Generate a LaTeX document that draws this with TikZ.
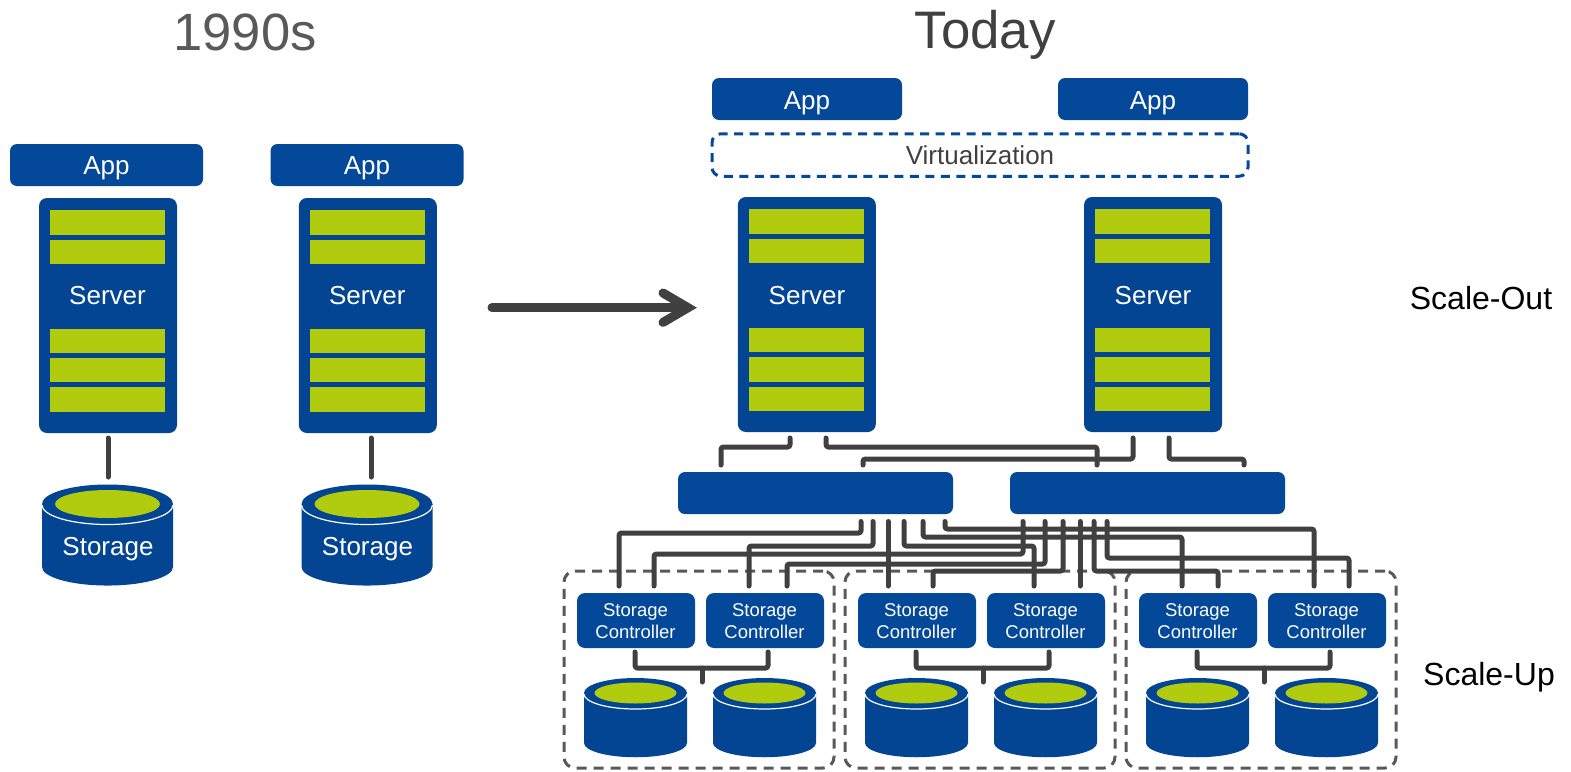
\documentclass[tikz,border=0pt]{standalone}
\usepackage{fontspec}
\setmainfont{Liberation Sans}
\usetikzlibrary{shapes.geometric}
\definecolor{hpblue}{HTML}{04489A}
\definecolor{hpdeep}{HTML}{034593}
\definecolor{hpgreen}{HTML}{B1CC0E}
\definecolor{wirec}{HTML}{404040}
\definecolor{dashc}{HTML}{595959}
\newcommand{\fsz}[1]{\fontsize{#1}{#1}\selectfont}
\tikzset{
  appbox/.style={fill=hpblue,rounded corners=7pt,minimum width=193pt,minimum height=42pt,inner sep=0pt},
  srvbox/.style={fill=hpdeep,rounded corners=8pt,minimum width=138pt,minimum height=235pt,inner sep=0pt},
  barbox/.style={fill=hpgreen,minimum width=115pt,minimum height=24.5pt,inner sep=0pt},
  swbox/.style={fill=hpblue,rounded corners=7pt,minimum width=275pt,minimum height=42pt,inner sep=0pt},
  ctlbox/.style={fill=hpblue,rounded corners=8pt,minimum width=118pt,minimum height=55pt,inner sep=0pt},
  ctltxt/.style={inner sep=0pt,text=white,font=\fsz{18.5},align=center},
  wire/.style={draw=wirec,line width=5pt,line cap=round,rounded corners=2.5pt},
  groupbox/.style={draw=dashc,line width=3pt,dash pattern=on 10pt off 7pt,rounded corners=11pt,minimum width=270pt,minimum height=197pt,inner sep=0pt},
  virtbox/.style={draw=hpblue,line width=3pt,dash pattern=on 9pt off 6.5pt,rounded corners=9pt,minimum width=536pt,minimum height=42.5pt,inner sep=0pt},
  ttl/.style={inner sep=0pt,text=#1},
  boxtxt/.style={inner sep=0pt,text=#1,font=\fsz{26}},
}
% \cyl{name}{cx}{cy}{rx}{ry}{h}{green rx}{green ry}
\newcommand{\cyl}[8]{%
  \fill[hpdeep] (#2-#4,#3) -- (#2-#4,#3+#6) arc[start angle=180,end angle=360,x radius=#4pt,y radius=#5pt*0.95] -- (#2+#4,#3) -- cycle;
  \fill[hpdeep] (#2,#3) ellipse[x radius=#4pt,y radius=#5pt];
  \draw[white,line width=1.2pt] (#2-#4,#3+1) arc[start angle=180,end angle=360,x radius=#4pt,y radius=#5pt];
  \node[fill=hpgreen,draw=none,shape=ellipse,minimum width=2*#7pt,minimum height=2*#8pt,inner sep=0pt] (#1) at (#2,#3) {};
}
% \vwire{from}{y}{to}
\newcommand{\vwire}[3]{\draw[wire] (#1) -- (#1 |- 0,#2) -- (#3 |- 0,#2) -- (#3);}
% \srvbars{prefix}{x}{y1}{y2}{y3}{y4}{y5}
\newcommand{\srvbars}[7]{%
  \node[barbox] (#1a) at (#2,#3) {};
  \node[barbox] (#1b) at (#2,#4) {};
  \node[barbox] (#1c) at (#2,#5) {};
  \node[barbox] (#1d) at (#2,#6) {};
  \node[barbox] (#1e) at (#2,#7) {};
}
% \ctlgroup{n}{dx}
\newcommand{\ctlgroup}[2]{%
  \node[groupbox] (grp#1) at (699+#2,669.5) {};
  \node[ctlbox] (ctl#1a) at (636+#2,620.5) {};
  \node[ctlbox] (ctl#1b) at (765+#2,620.5) {};
  \node[ctltxt] (ctl#1at) at (635.5+#2,621.5) {Storage\\[3.5pt]Controller};
  \node[ctltxt] (ctl#1bt) at (764.5+#2,621.5) {Storage\\[3.5pt]Controller};
  \cyl{dsk#1a}{635.5+#2}{693}{51.5}{15}{50}{41}{10.5}
  \cyl{dsk#1b}{764.5+#2}{693}{51.5}{15}{50}{41}{10.5}
  \coordinate (j#1a) at (635+#2,652);
  \coordinate (j#1b) at (768+#2,652);
  \coordinate (j#1m) at (702+#2,668);
  \coordinate (j#1d) at (702+#2,682);
  \vwire{j#1a}{668}{j#1b}
  \draw[wire] (j#1m) -- (j#1d);
}
\begin{document}
\begin{tikzpicture}[x=1pt,y=-1pt]
\useasboundingbox (0,0) rectangle (1571,771);
% titles
\node[ttl=dashc,font=\fsz{52.5}] (t1) at (245,32) {1990s};
\node[ttl=wirec,font=\fsz{52.8}] (t2) at (985,35) {Today};
\node[ttl=black,font=\fsz{32}] (so) at (1481,298) {Scale-Out};
\node[ttl=black,font=\fsz{32}] (su) at (1489,677) {Scale-Up};
% left apps and servers
\node[appbox] (appL1) at (106.5,165) {};
\node[appbox] (appL2) at (367,165) {};
\node[boxtxt=white] (appL1t) at (106.5,168) {App};
\node[boxtxt=white] (appL2t) at (367,168) {App};
\node[srvbox] (srvL1) at (108,315.5) {};
\node[srvbox] (srvL2) at (367.8,315.5) {};
\srvbars{bl}{107.5}{222.5}{252}{341}{370}{399.5}
\srvbars{bm}{367.3}{222.5}{252}{341}{370}{399.5}
\node[boxtxt=white] (sl1) at (107.5,296) {Server};
\node[boxtxt=white] (sl2) at (367.3,296) {Server};
\cyl{stL1}{107.5}{504}{65.5}{19.5}{63}{52.5}{14}
\cyl{stL2}{367}{504}{65.5}{19.5}{63}{52.5}{14}
\node[boxtxt=white] (stL1t) at (108,549) {Storage};
\node[boxtxt=white] (stL2t) at (367.5,549) {Storage};
\coordinate (a1) at (108,438); \coordinate (a2) at (108,477);
\coordinate (b1) at (371,438); \coordinate (b2) at (371,477);
\draw[wire] (a1) -- (a2);
\draw[wire] (b1) -- (b2);
% big arrow
\coordinate (ar1) at (492,307.7); \coordinate (ar2) at (688,307.7);
\coordinate (ar3) at (663,293); \coordinate (ar4) at (663,322.4);
\draw[draw=wirec,line width=9pt,line cap=round] (ar1) -- (ar2);
\draw[draw=wirec,line width=9pt,line cap=round,line join=miter] (ar3) -- (ar2) -- (ar4);
% right
\node[appbox,minimum width=190pt] (appR1) at (807,99) {};
\node[appbox,minimum width=190pt] (appR2) at (1153,99) {};
\node[boxtxt=white] (appR1t) at (807,103) {App};
\node[boxtxt=white] (appR2t) at (1153,103) {App};
\node[virtbox] (virt) at (980,155) {};
\node[boxtxt=wirec] (virtt) at (980,155) {Virtualization};
\node[srvbox] (srvR1) at (806.8,314.5) {};
\node[srvbox] (srvR2) at (1153,314.5) {};
\srvbars{bx}{806.6}{221.5}{251}{340}{369.5}{399}
\srvbars{by}{1152.7}{221.5}{251}{340}{369.5}{399}
\node[boxtxt=white] (sr1) at (807,296) {Server};
\node[boxtxt=white] (sr2) at (1153,296) {Server};
\node[swbox] (sw1) at (815.5,493) {};
\node[swbox] (sw2) at (1147.5,493) {};
% server to switch wires
\coordinate (s1a) at (790,438); \coordinate (s1b) at (826,438);
\coordinate (s2a) at (1133,438); \coordinate (s2b) at (1169,438);
\coordinate (u1) at (721,465); \coordinate (u2) at (863,465);
\coordinate (u3) at (1097,465); \coordinate (u4) at (1244,465);
\vwire{s1a}{447}{u1}
\vwire{s1b}{447}{u3}
\vwire{s2a}{459}{u2}
\vwire{s2b}{459}{u4}
% groups
\ctlgroup{1}{0}
\ctlgroup{2}{281}
\ctlgroup{3}{562}
% switch to controller wires
\foreach \n/\x in {A/861,B/873,C/888,D/904,E/923,F/945,G/1023,H/1045,I/1063,J/1080,K/1094,L/1107}
  \coordinate (d\n) at (\x,521.5);
\foreach \n/\x in {A/619,B/749,C/888,D/1034,E/1182,F/1314,G/654,H/787,I/933,J/1080,K/1218,L/1349}
  \coordinate (e\n) at (\x,586);
\vwire{dA}{533}{eA}
\vwire{dB}{546}{eB}
\draw[wire] (dC) -- (eC);
\vwire{dD}{546}{eD}
\vwire{dE}{537}{eE}
\vwire{dF}{529}{eF}
\vwire{dG}{554}{eG}
\vwire{dH}{564}{eH}
\vwire{dI}{571}{eI}
\draw[wire] (dJ) -- (eJ);
\vwire{dK}{571}{eK}
\vwire{dL}{558}{eL}
\end{tikzpicture}
\end{document}
